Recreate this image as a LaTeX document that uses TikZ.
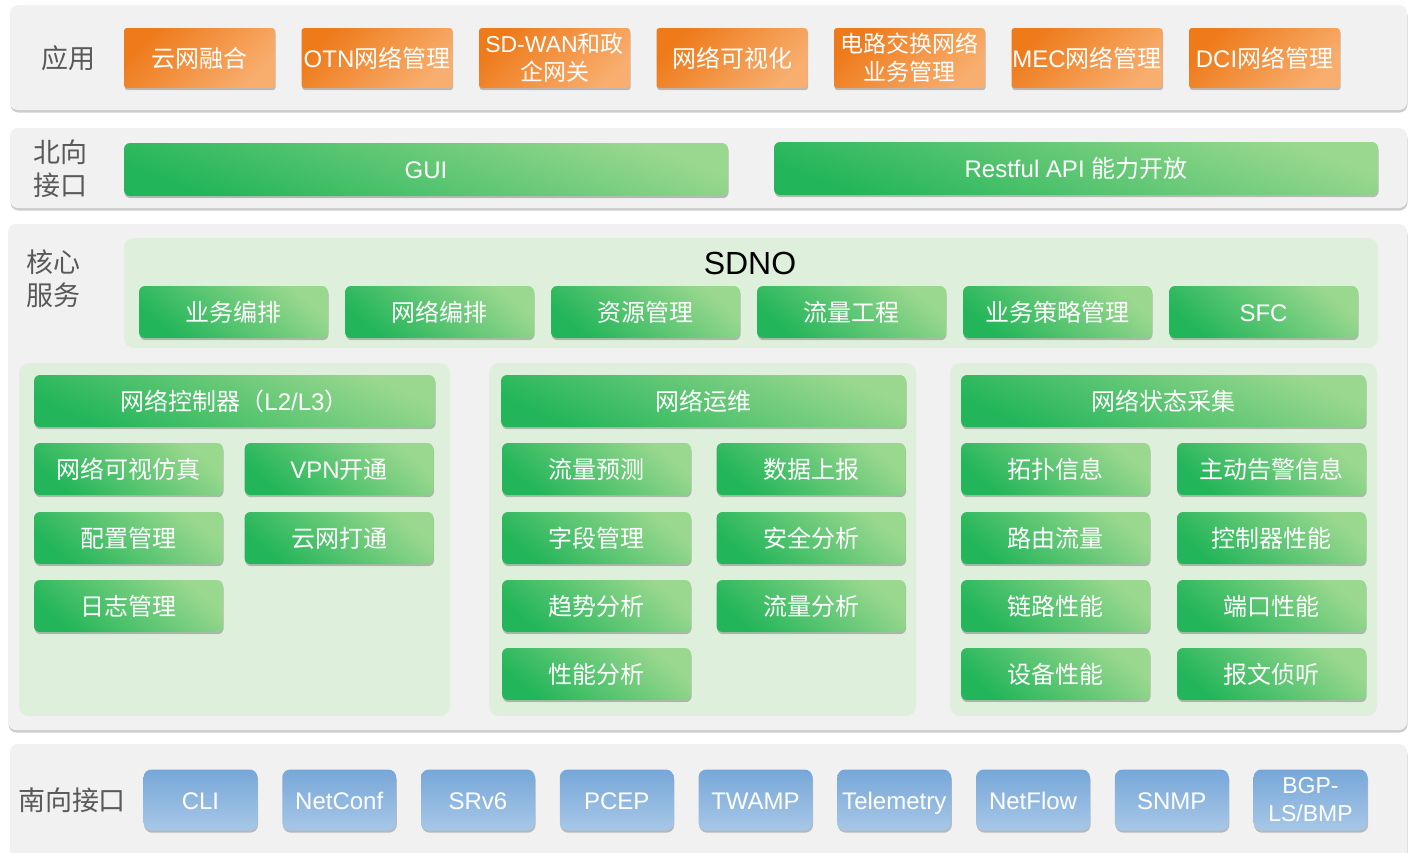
\documentclass[tikz,border=0pt]{standalone}
\usepackage{fontspec}
\setmainfont{Liberation Sans}
\newfontfamily\zhf{Noto Sans CJK SC}
\newcommand\z[1]{{\zhf #1}}
\usetikzlibrary{shadows}
\definecolor{panelgray}{HTML}{F1F1F1}
\definecolor{lightgreen}{HTML}{DEF0DC}
\definecolor{ordark}{HTML}{EE7A1A}
\definecolor{orlight}{HTML}{F8AE6E}
\definecolor{grdark}{HTML}{22B559}
\definecolor{grlight}{HTML}{9BD88F}
\definecolor{bltop}{HTML}{77A7D8}
\definecolor{blbot}{HTML}{A7C7E7}
\definecolor{labelgray}{HTML}{595959}
\tikzset{
  boxshadow/.style={drop shadow={shadow xshift=0.6pt, shadow yshift=-2.2pt, opacity=0.45, fill=black!55}},
  panel/.style={fill=panelgray, rounded corners=8pt, drop shadow={shadow xshift=0.5pt, shadow yshift=-2.5pt, opacity=0.4, fill=black!50}},
  subpanel/.style={fill=lightgreen, rounded corners=10pt},
  boxtext/.style={inner sep=0pt, align=center, text=white, font=\fontsize{24}{28}\selectfont,
    text height=20pt, text depth=2pt},
  twoline/.style={text height=, text depth=, font=\fontsize{23}{28}\selectfont},
  obox/.style={boxtext, boxshadow, rounded corners=3pt, minimum width=151pt, minimum height=60pt,
    top color=ordark, bottom color=orlight, shading angle=45},
  gbox/.style={boxtext, boxshadow, rounded corners=6pt, minimum width=189pt, minimum height=52pt,
    top color=grlight, bottom color=grdark, shading angle=-40},
  bbox/.style={boxtext, boxshadow, rounded corners=8pt, minimum width=114pt, minimum height=61pt,
    top color=bltop, bottom color=blbot},
  lbl/.style={text=labelgray, align=center, font=\zhf\fontsize{27}{33}\selectfont, inner sep=0pt}
}
\begin{document}
\begin{tikzpicture}[x=1pt,y=-1pt]
\useasboundingbox (0,0) rectangle (1414,852);
% panels
\path[panel] (10,5) rectangle (1407,110);
\path[panel] (10,128) rectangle (1407,208);
\path[panel] (8,224) rectangle (1407,730);
\path[panel] (10,744) rectangle (1407,875);
\path[subpanel] (124,238) rectangle (1378,348);
\path[subpanel] (19,363) rectangle (450,716);
\path[subpanel] (489,363) rectangle (916,716);
\path[subpanel] (950,363) rectangle (1377,716);
% labels
\node[lbl] (lapp) at (68,58) {应用};
\node[lbl] (lnorth) at (60,169) {北向\\接口};
\node[lbl] (lcore) at (53,279) {核心\\服务};
\node[lbl] (lsouth) at (72,800) {南向接口};
% application row
\node[obox] (a1) at (199.5,58) {\z{云网融合}};
\node[obox] (a2) at (377,58) {OTN\z{网络管理}};
\node[obox, twoline] (a3) at (554.5,58) {SD-WAN\z{和政}\\\z{企网关}};
\node[obox] (a4) at (732,58) {\z{网络可视化}};
\node[obox, twoline] (a5) at (909.5,58) {\z{电路交换网络}\\\z{业务管理}};
\node[obox] (a6) at (1087,58) {MEC\z{网络管理}};
\node[obox] (a7) at (1264.5,58) {DCI\z{网络管理}};
% north
\node[gbox, minimum width=604pt, minimum height=53pt, shading angle=-20] (gui) at (426,169.5) {GUI};
\node[gbox, minimum width=604pt, minimum height=53pt, shading angle=-20] (api) at (1076,168.5) {Restful API \z{能力开放}};
% SDNO
\node[font=\fontsize{32}{36}\selectfont, inner sep=0pt] (sdno) at (750,263) {SDNO};
\node[gbox] (s1) at (233.5,312) {\z{业务编排}};
\node[gbox] (s2) at (439.5,312) {\z{网络编排}};
\node[gbox] (s3) at (645.5,312) {\z{资源管理}};
\node[gbox] (s4) at (851.5,312) {\z{流量工程}};
\node[gbox] (s5) at (1057.5,312) {\z{业务策略管理}};
\node[gbox] (s6) at (1263.5,312) {SFC};
% panel 1
\node[gbox, minimum width=401pt, shading angle=-25] (c0) at (234.5,401) {\z{网络控制器（}L2/L3\z{）}};
\node[gbox] (c1) at (128.5,469) {\z{网络可视仿真}};
\node[gbox] (c2) at (339,469) {VPN\z{开通}};
\node[gbox] (c3) at (128.5,538) {\z{配置管理}};
\node[gbox] (c4) at (339,538) {\z{云网打通}};
\node[gbox] (c5) at (128.5,606) {\z{日志管理}};
% panel 2
\node[gbox, minimum width=405pt, shading angle=-25] (o0) at (703.5,401) {\z{网络运维}};
\node[gbox] (o1) at (596.5,469) {\z{流量预测}};
\node[gbox] (o2) at (811,469) {\z{数据上报}};
\node[gbox] (o3) at (596.5,538) {\z{字段管理}};
\node[gbox] (o4) at (811,538) {\z{安全分析}};
\node[gbox] (o5) at (596.5,606) {\z{趋势分析}};
\node[gbox] (o6) at (811,606) {\z{流量分析}};
\node[gbox] (o7) at (596.5,674) {\z{性能分析}};
% panel 3
\node[gbox, minimum width=405pt, shading angle=-25] (m0) at (1163.5,401) {\z{网络状态采集}};
\node[gbox] (m1) at (1055.5,469) {\z{拓扑信息}};
\node[gbox] (m2) at (1271.5,469) {\z{主动告警信息}};
\node[gbox] (m3) at (1055.5,538) {\z{路由流量}};
\node[gbox] (m4) at (1271.5,538) {\z{控制器性能}};
\node[gbox] (m5) at (1055.5,606) {\z{链路性能}};
\node[gbox] (m6) at (1271.5,606) {\z{端口性能}};
\node[gbox] (m7) at (1055.5,674) {\z{设备性能}};
\node[gbox] (m8) at (1271.5,674) {\z{报文侦听}};
% south
\node[bbox] (b1) at (200.5,800) {CLI};
\node[bbox] (b2) at (339.25,800) {NetConf};
\node[bbox] (b3) at (478,800) {SRv6};
\node[bbox] (b4) at (616.75,800) {PCEP};
\node[bbox] (b5) at (755.5,800) {TWAMP};
\node[bbox] (b6) at (894.25,800) {Telemetry};
\node[bbox] (b7) at (1033,800) {NetFlow};
\node[bbox] (b8) at (1171.75,800) {SNMP};
\node[bbox, twoline] (b9) at (1310.5,800) {BGP-\\LS/BMP};
\end{tikzpicture}
\end{document}
